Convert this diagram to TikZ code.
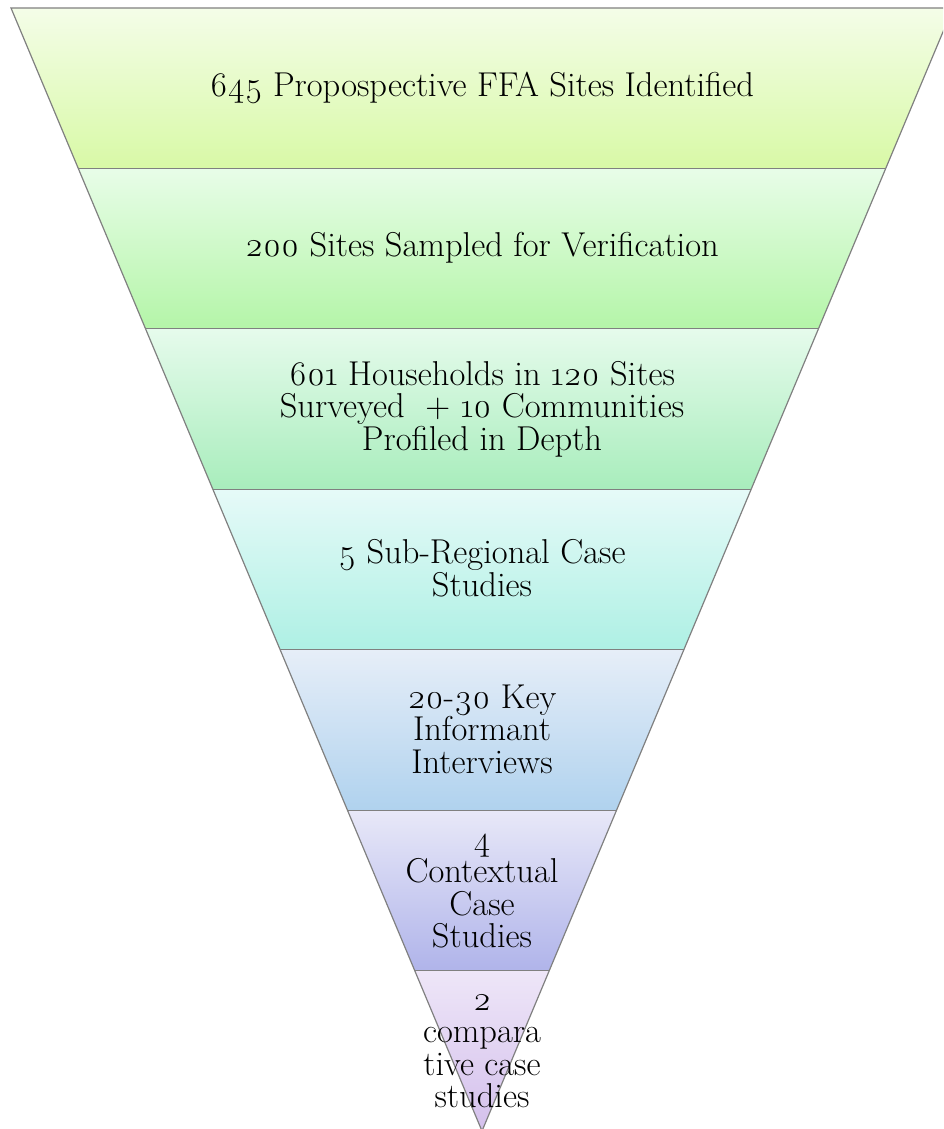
\documentclass[tikz,border=0pt]{standalone}
\usepackage{fontspec}
\setmainfont{Latin Modern Roman}[Numbers=OldStyle]
\usetikzlibrary{calc}

\definecolor{bandAtop}{HTML}{F4FDE8}
\definecolor{bandAbot}{HTML}{D8F9A6}
\definecolor{bandBtop}{HTML}{E8FDE8}
\definecolor{bandBbot}{HTML}{B4F5A8}
\definecolor{bandCtop}{HTML}{E6FBEC}
\definecolor{bandCbot}{HTML}{A8EDBC}
\definecolor{bandDtop}{HTML}{E6FAF8}
\definecolor{bandDbot}{HTML}{AEF0E4}
\definecolor{bandEtop}{HTML}{E6EEF8}
\definecolor{bandEbot}{HTML}{B0D2EE}
\definecolor{bandFtop}{HTML}{E8E8F8}
\definecolor{bandFbot}{HTML}{B0B4EA}
\definecolor{bandGtop}{HTML}{EEE6F8}
\definecolor{bandGbot}{HTML}{D4C0EC}

\begin{document}
\begin{tikzpicture}[x=1pt, y=-1pt,
    edge/.style={draw=black!50, line width=1.2pt},
    lbl/.style={align=center, text=black, font=\fontsize{34.5}{32.5}\selectfont}]
    \useasboundingbox (0,0) rectangle (943,1129);
    \clip (0,0) rectangle (943,1129);

    \coordinate (L) at (11,8);
    \coordinate (R) at (953,8);
    \coordinate (O) at (482,1131);

    \coordinate (L1) at ($(L)!0.142857!(O)$);
    \coordinate (L2) at ($(L)!0.285714!(O)$);
    \coordinate (L3) at ($(L)!0.428571!(O)$);
    \coordinate (L4) at ($(L)!0.571429!(O)$);
    \coordinate (L5) at ($(L)!0.714286!(O)$);
    \coordinate (L6) at ($(L)!0.857143!(O)$);

    \coordinate (R1) at ($(R)!0.142857!(O)$);
    \coordinate (R2) at ($(R)!0.285714!(O)$);
    \coordinate (R3) at ($(R)!0.428571!(O)$);
    \coordinate (R4) at ($(R)!0.571429!(O)$);
    \coordinate (R5) at ($(R)!0.714286!(O)$);
    \coordinate (R6) at ($(R)!0.857143!(O)$);

    % bands, widest on top
    \shade[top color=bandAtop, bottom color=bandAbot] (L) -- (R) -- (R1) -- (L1) -- cycle;
    \shade[top color=bandBtop, bottom color=bandBbot] (L1) -- (R1) -- (R2) -- (L2) -- cycle;
    \shade[top color=bandCtop, bottom color=bandCbot] (L2) -- (R2) -- (R3) -- (L3) -- cycle;
    \shade[top color=bandDtop, bottom color=bandDbot] (L3) -- (R3) -- (R4) -- (L4) -- cycle;
    \shade[top color=bandEtop, bottom color=bandEbot] (L4) -- (R4) -- (R5) -- (L5) -- cycle;
    \shade[top color=bandFtop, bottom color=bandFbot] (L5) -- (R5) -- (R6) -- (L6) -- cycle;
    \shade[top color=bandGtop, bottom color=bandGbot] (L6) -- (R6) -- (O) -- cycle;

    \draw[edge] (L) -- (R) -- (O) -- cycle;
    \draw[edge] (L1) -- (R1);
    \draw[edge] (L2) -- (R2);
    \draw[edge] (L3) -- (R3);
    \draw[edge] (L4) -- (R4);
    \draw[edge] (L5) -- (R5);
    \draw[edge] (L6) -- (R6);

    \node[lbl] (sites)    at (482,88)   {645 Propospective FFA Sites Identified};
    \node[lbl] (sampled)  at (482,248)  {200 Sites Sampled for Verification};
    \node[lbl] (surveyed) at (482,409)  {601 Households in 120 Sites\\Surveyed \ + 10 Communities\\Profiled in Depth};
    \node[lbl] (subreg)   at (482,568)  {5 Sub-Regional Case\\Studies};
    \node[lbl] (informant) at (482,729) {20-30 Key\\Informant\\Interviews};
    \node[lbl] (context)  at (482,891)  {4\\Contextual\\Case\\Studies};
    \node[lbl] (compare)  at (482,1051) {2\\compara\\tive case\\studies};
\end{tikzpicture}
\end{document}
